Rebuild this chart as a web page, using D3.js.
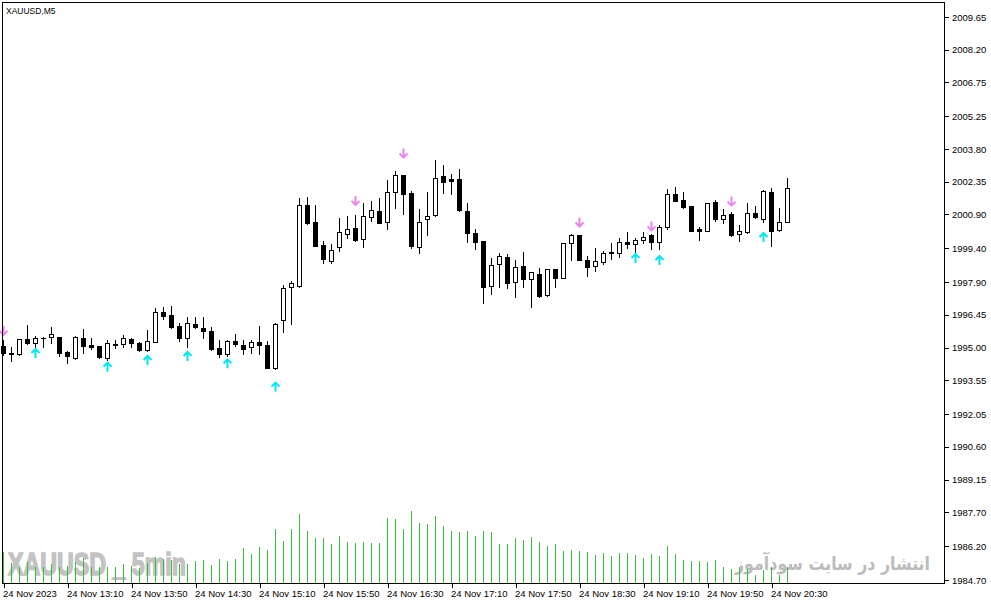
<!DOCTYPE html>
<meta charset="utf-8">

<style type="text/css">
body {
  margin: 0;
  background: #fff;
}

.frame {
  fill: none;
  stroke: #000;
  stroke-width: 1;
}

.wick {
  stroke: #000;
  stroke-width: 1;
}

.axis text {
  font-family: "Liberation Sans", Arial, sans-serif;
  font-size: 9.5px;
  fill: #000;
}

.axis line {
  stroke: #000;
}

.axis .domain {
  display: none;
}

.vol {
  stroke: #3dbb3d;
  stroke-width: 1;
}
</style>
<body>
</body>

<script src="https://d3js.org/d3.v7.min.js"></script>
<script>

// bars of XAUUSD M5, index 0 = 12:30
var opens = [1995.07,1994.77,1994.70,1995.37,1995.19,1995.44,1995.46,1995.46,1994.80,1994.55,
  1995.41,1995.11,1995.07,1994.55,1995.16,1995.15,1995.37,1995.19,1994.88,1995.26,
  1996.56,1996.44,1995.94,1995.41,1996.03,1995.85,1995.74,1994.97,1994.70,1995.29,
  1995.11,1995.01,1995.23,1995.11,1994.08,1996.22,1997.67,1997.73,2001.32,2000.55,
  1999.53,1998.85,1999.47,2000.02,2000.29,1999.80,2000.77,2001.05,2000.55,2001.88,
  2002.65,2001.86,1999.44,2000.69,2000.86,2002.60,2002.47,2002.47,2001.05,2000.06,
  1999.72,1997.73,1998.69,1999.00,1997.89,1998.62,1998.05,1998.26,1997.32,1998.47,
  1998.10,1999.65,1999.99,1998.88,1998.63,1998.81,1999.25,1999.21,1999.68,1999.58,
  1999.75,1999.99,1999.69,2000.36,2001.81,2001.54,2001.27,2000.25,2000.18,2001.44,
  2000.69,2000.92,2000.02,2000.11,2000.96,2000.69,2001.88,2000.21,2000.58];

var highs = [1995.34,1995.04,1995.39,1996.00,1995.51,1995.46,1995.90,1995.47,1994.85,1995.51,
  1995.81,1995.41,1995.07,1995.34,1995.34,1995.56,1995.44,1995.26,1995.78,1996.74,
  1996.81,1996.86,1996.08,1996.34,1996.34,1996.34,1995.93,1995.34,1995.34,1995.60,
  1995.34,1995.34,1995.96,1995.31,1996.08,1997.77,1997.95,2001.62,2001.66,2001.32,
  1999.72,1999.58,2000.73,2000.83,2000.88,2001.39,2001.50,2001.64,2002.43,2002.83,
  2002.66,2001.94,2001.14,2001.88,2003.31,2003.09,2002.69,2002.91,2001.42,2000.25,
  1999.72,1998.96,1999.18,1999.15,1998.88,1999.25,1998.34,1998.51,1998.47,1998.47,
  1999.62,2000.02,1999.99,1999.06,1999.40,1999.29,1999.62,1999.87,2000.11,1999.87,
  2000.11,2000.03,2000.42,2002.03,2002.13,2001.88,2001.27,2000.36,2001.40,2001.54,
  2001.14,2001.02,2000.43,2001.41,2001.27,2001.98,2002.06,2001.17,2002.50];

var lows = [1994.66,1994.41,1994.66,1995.16,1995.04,1995.04,1995.22,1994.64,1994.30,1994.51,
  1994.75,1994.94,1994.55,1994.45,1995.00,1995.01,1995.04,1994.85,1994.86,1995.23,
  1996.25,1995.85,1995.31,1995.04,1995.87,1995.41,1994.89,1994.57,1994.64,1995.07,
  1994.70,1994.75,1994.72,1994.08,1994.05,1995.70,1996.05,1997.70,2000.46,1999.50,
  1998.74,1998.74,1999.29,1999.87,1999.72,1999.47,2000.62,2000.52,2000.25,2001.20,
  2000.92,1999.43,1999.18,1999.99,2000.83,2001.84,2001.79,2001.05,1999.69,1999.36,
  1996.96,1997.37,1997.70,1997.63,1997.26,1997.70,1996.81,1997.26,1997.30,1997.70,
  1998.10,1998.88,1998.88,1998.17,1998.39,1998.69,1998.93,1999.03,1999.43,1999.25,
  1999.62,1999.36,1999.39,2000.25,2001.50,2001.17,2000.17,1999.77,2000.17,2000.62,
  2000.53,1999.96,1999.72,2000.06,2000.76,2000.58,1999.52,2000.18,2000.57];

var closes = [1994.77,1994.73,1995.37,1995.19,1995.41,1995.43,1995.59,1994.75,1994.61,1995.46,
  1995.08,1995.03,1994.60,1995.19,1995.10,1995.41,1995.22,1994.89,1995.28,1996.56,
  1996.41,1995.93,1995.43,1996.08,1995.93,1995.75,1994.92,1994.70,1995.29,1995.15,
  1994.92,1995.23,1995.11,1994.08,1996.05,1997.63,1997.88,2001.31,2000.53,1999.52,
  1998.91,1999.31,2000.11,2000.24,1999.77,2000.82,2001.08,2000.53,2001.88,2002.65,
  2001.79,1999.50,2000.55,2000.82,2002.50,2002.35,2002.40,2001.10,2000.09,1999.69,
  1997.70,1998.65,1999.06,1997.85,1998.56,1998.03,1998.34,1997.30,1998.47,1998.10,
  1999.62,1999.99,1998.88,1998.58,1998.84,1999.21,1999.18,1999.67,1999.60,1999.77,
  1999.89,1999.69,2000.33,2001.79,2001.51,2001.24,2000.18,2000.18,2001.39,2000.70,
  2000.88,1999.99,2000.17,2000.95,2000.80,2001.94,2000.18,2000.58,2002.06];

var volumes = [368,240,188,256,188,188,228,188,200,248,
  296,188,188,188,188,228,208,176,240,308,
  288,280,228,228,264,276,216,288,264,288,
  420,348,432,396,648,504,648,828,624,540,
  540,468,564,492,480,492,480,480,780,768,
  648,864,720,708,804,684,624,612,624,564,
  624,612,468,468,540,516,552,492,444,468,
  384,396,384,372,336,360,324,360,360,336,
  300,348,324,444,348,276,264,264,252,276,
  192,168,192,168,96,156,192,96,192];

// arrow signals: bar index and price where the arrow sits
var sellIdx = [0, 44, 50, 72, 81, 91];
var sellPrice = [1995.74, 2001.50, 2003.60, 2000.54, 2000.37, 2001.47];
var buyIdx = [4, 13, 18, 23, 28, 34, 79, 82, 95];
var buyPrice = [1994.76, 1994.15, 1994.45, 1994.63, 1994.30, 1993.27, 1998.97, 1998.88, 1999.90];

var priceTicks = [2009.65, 2008.20, 2006.75, 2005.25, 2003.80, 2002.35, 2000.90, 1999.40, 1997.90,
  1996.45, 1995.00, 1993.55, 1992.05, 1990.60, 1989.15, 1987.70, 1986.20, 1984.70];

var timeTickIdx = [0, 8, 16, 24, 32, 40, 48, 56, 64, 72, 80, 88, 96];
var timeTickLabels = ["24 Nov 2023", "24 Nov 13:10", "24 Nov 13:50", "24 Nov 14:30",
  "24 Nov 15:10", "24 Nov 15:50", "24 Nov 16:30", "24 Nov 17:10", "24 Nov 17:50",
  "24 Nov 18:30", "24 Nov 19:10", "24 Nov 19:50", "24 Nov 20:30"];

var width = 991, height = 605;
var plot = {left: 2.5, top: 2.5, right: 944.5, bottom: 583.5};

var bars = opens.map(function(o, i) {
  return {i: i, o: o, h: highs[i], l: lows[i], c: closes[i], v: volumes[i]};
});

// scales: one bar every 8 px, price axis on the right
var xScale = d3.scaleLinear()
    .domain([0, 98])
    .range([3.5, 787.5]);

var yScale = d3.scaleLinear()
    .domain([1984.70, 2009.65])
    .range([580, 17]);

var vScale = d3.scaleLinear()
    .domain([0, d3.max(volumes)])
    .range([583, 511]);

var svg = d3.select("body").append("svg")
    .attr("width", width)
    .attr("height", height);

// watermarks sit under the volume bars
svg.append("text")
    .attr("x", 8)
    .attr("y", 575)
    .attr("textLength", 178)
    .attr("lengthAdjust", "spacingAndGlyphs")
    .style("font-family", "'Liberation Sans', Arial, sans-serif")
    .style("font-weight", "bold")
    .style("font-size", "31px")
    .style("fill", "#c3c3c3")
    .style("stroke", "#c3c3c3")
    .style("stroke-width", 1.6)
    .text("XAUUSD _ 5min");

svg.append("text")
    .attr("x", 735)
    .attr("y", 570)
    .attr("textLength", 195)
    .attr("lengthAdjust", "spacingAndGlyphs")
    .style("font-family", "'DejaVu Sans', sans-serif")
    .style("font-weight", "bold")
    .style("font-size", "19px")
    .style("fill", "#bcbcbc")
    .text("انتشار در سایت سودآموز");

// volumes
svg.append("g")
    .attr("shape-rendering", "crispEdges")
  .selectAll("line")
    .data(bars)
  .enter().append("line")
    .attr("class", "vol")
    .attr("x1", function(d) { return xScale(d.i); })
    .attr("x2", function(d) { return xScale(d.i); })
    .attr("y1", vScale(0))
    .attr("y2", function(d) { return Math.round(vScale(d.v)); });

// candles
var snap = function(v) { return Math.round(v) + 0.5; };

var candle = svg.append("g")
    .attr("shape-rendering", "crispEdges")
  .selectAll("g")
    .data(bars)
  .enter().append("g");

candle.append("line")
    .attr("class", "wick")
    .attr("x1", function(d) { return xScale(d.i); })
    .attr("x2", function(d) { return xScale(d.i); })
    .attr("y1", function(d) { return snap(yScale(d.h)) - 0.5; })
    .attr("y2", function(d) { return snap(yScale(d.l)) + 0.5; });

candle.each(function(d) {
  var g = d3.select(this);
  var cx = xScale(d.i);
  var top = snap(yScale(Math.max(d.o, d.c)));
  var bot = snap(yScale(Math.min(d.o, d.c)));
  if (bot - top < 1) {
    g.append("line")
        .attr("x1", cx - 2.5).attr("x2", cx + 2.5)
        .attr("y1", top).attr("y2", top)
        .style("stroke", "#000");
  } else {
    g.append("rect")
        .attr("x", cx - 2)
        .attr("y", top)
        .attr("width", 4)
        .attr("height", bot - top)
        .style("fill", d.c >= d.o ? "#fff" : "#000")
        .style("stroke", "#000");
  }
});

// arrows
function arrow(up) {
  // shaft plus chevron, centred on 0,0
  return up ? "M0,5V-4M-4,0L0,-4L4,0" : "M0,-5V4M-4,0L0,4L4,0";
}

svg.append("g").selectAll("path")
    .data(buyIdx)
  .enter().append("path")
    .attr("d", arrow(true))
    .attr("transform", function(d, i) { return "translate(" + xScale(d) + "," + yScale(buyPrice[i]) + ")"; })
    .style("fill", "none")
    .style("stroke", "#00e8f0")
    .style("stroke-width", 2);

svg.append("g").selectAll("path")
    .data(sellIdx)
  .enter().append("path")
    .attr("d", arrow(false))
    .attr("transform", function(d, i) { return "translate(" + xScale(d) + "," + yScale(sellPrice[i]) + ")"; })
    .style("fill", "none")
    .style("stroke", "#ee82ee")
    .style("stroke-width", 2);

// frame
svg.append("rect")
    .attr("class", "frame")
    .attr("shape-rendering", "crispEdges")
    .attr("x", plot.left)
    .attr("y", plot.top)
    .attr("width", plot.right - plot.left)
    .attr("height", plot.bottom - plot.top);

svg.append("text")
    .attr("x", 6)
    .attr("y", 14)
    .style("font-family", "'Liberation Sans', Arial, sans-serif")
    .style("font-size", "8.5px")
    .text("XAUUSD,M5");

// price axis
var yAxis = d3.axisRight(yScale)
    .tickValues(priceTicks)
    .tickFormat(d3.format(".2f"))
    .tickSize(4)
    .tickPadding(3);

svg.append("g")
    .attr("class", "y axis")
    .attr("shape-rendering", "crispEdges")
    .attr("transform", "translate(" + (plot.right + 0.5) + ",0)")
    .call(yAxis);

// time axis
var xAxis = d3.axisBottom(xScale)
    .tickValues(timeTickIdx)
    .tickFormat(function(d, i) { return timeTickLabels[i]; })
    .tickSize(4)
    .tickPadding(2);

var gx = svg.append("g")
    .attr("class", "x axis")
    .attr("shape-rendering", "crispEdges")
    .attr("transform", "translate(0," + (plot.bottom + 0.5) + ")")
    .call(xAxis);

gx.selectAll("text")
    .attr("text-anchor", "start")
    .attr("x", -1);

</script>
